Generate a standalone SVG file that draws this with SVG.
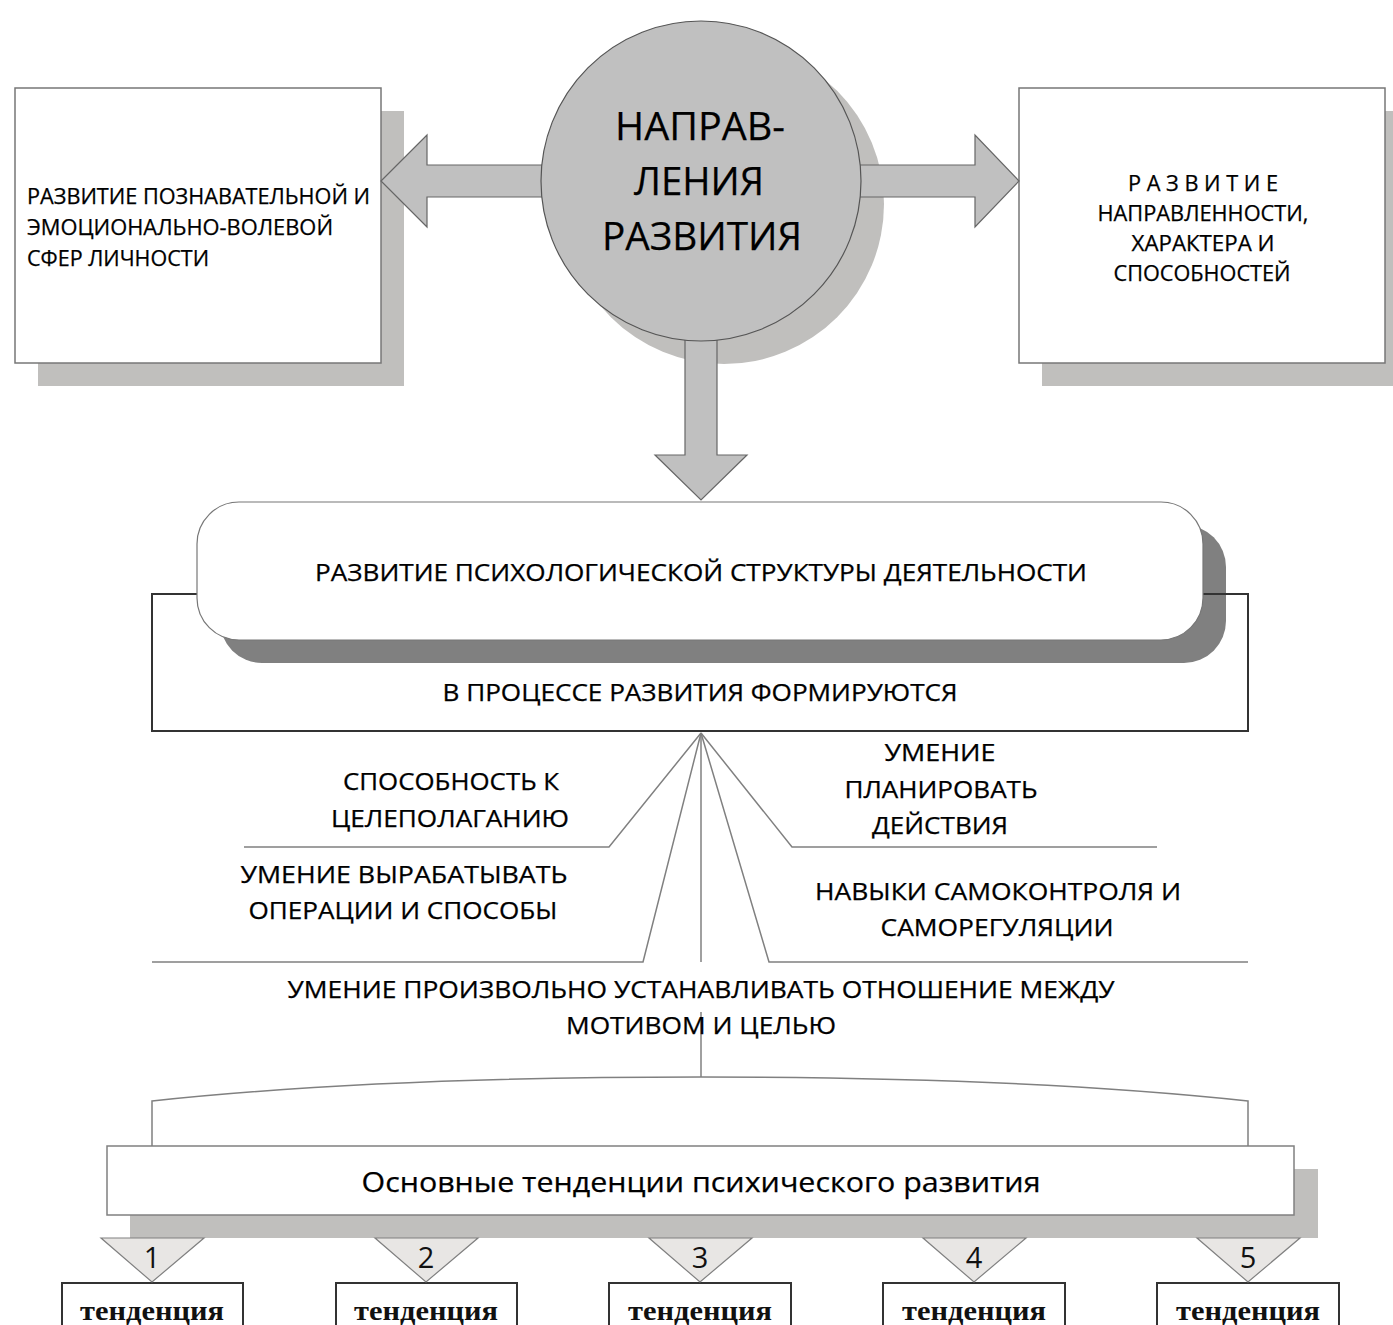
<svg xmlns="http://www.w3.org/2000/svg" width="1393" height="1325" viewBox="0 0 1393 1325">
<style>
.t{font-family:"Open Sans","Liberation Sans",sans-serif;fill:#000;font-size:21px;stroke:#000;stroke-width:0.25}
.c{text-anchor:middle}
.box{fill:#fff;stroke:#777;stroke-width:1.5}
.sh{fill:#c0bfbd}
.arr{fill:#c0c0c0;stroke:#666;stroke-width:1.2}
.ln{fill:none;stroke:#808080;stroke-width:1.5}
.tri{fill:#e8e6e4;stroke:#808080;stroke-width:1.2}
.tb{fill:#fff;stroke:#333;stroke-width:2}
.tt{font-family:"Liberation Serif",serif;font-weight:bold;font-size:28px;fill:#111;text-anchor:middle}
.num{font-family:"Open Sans","Liberation Sans",sans-serif;font-size:29px;fill:#111;text-anchor:middle}
</style>
<rect width="1393" height="1325" fill="#fff"/>

<g id="left-box">
<rect class="sh" x="38" y="111" width="366" height="275"/>
<rect class="box" x="15" y="88" width="366" height="275"/>
<text class="t" x="27" y="204" textLength="343" lengthAdjust="spacingAndGlyphs">РАЗВИТИЕ ПОЗНАВАТЕЛЬНОЙ И</text>
<text class="t" x="27" y="235" textLength="306" lengthAdjust="spacingAndGlyphs">ЭМОЦИОНАЛЬНО-ВОЛЕВОЙ</text>
<text class="t" x="27" y="266" textLength="182" lengthAdjust="spacingAndGlyphs">СФЕР ЛИЧНОСТИ</text>
</g>

<g id="right-box">
<rect class="sh" x="1042" y="111" width="366" height="275"/>
<rect class="box" x="1019" y="88" width="366" height="275"/>
<text class="t c" x="1203" y="191" textLength="150" lengthAdjust="spacingAndGlyphs">Р А З В И Т И Е</text>
<text class="t c" x="1203" y="221" textLength="211" lengthAdjust="spacingAndGlyphs">НАПРАВЛЕННОСТИ,</text>
<text class="t c" x="1203" y="251" textLength="143" lengthAdjust="spacingAndGlyphs">ХАРАКТЕРА И</text>
<text class="t c" x="1202" y="281" textLength="177" lengthAdjust="spacingAndGlyphs">СПОСОБНОСТЕЙ</text>
</g>

<g id="center-shadow">
<circle cx="724" cy="204" r="160" fill="#c0bfbd"/>
</g>

<g id="connectors">
<polygon class="arr" points="381,181 427,135 427,165 560,165 560,197 427,197 427,227"/>
<polygon class="arr" points="1019,181 975,135 975,165 840,165 840,197 975,197 975,227"/>
<polygon class="arr" points="685,320 717,320 717,455 747,455 701,500 655,455 685,455"/>
<path class="ln" d="M701,733 L609,847 L244,847"/>
<path class="ln" d="M701,733 L792,847 L1157,847"/>
<path class="ln" d="M701,733 L643,962 L152,962"/>
<path class="ln" d="M701,733 L769,962 L1248,962"/>
<path class="ln" d="M701,733 L701,962"/>
<path class="ln" d="M701,1012 L701,1077"/>
<path class="ln" d="M152,1146 L152,1101 C320,1083 500,1077 701,1077 C900,1077 1080,1083 1248,1101 L1248,1146"/>
</g>

<g id="center">
<circle cx="701" cy="181" r="160" fill="#c0c0c0" stroke="#555" stroke-width="1.2"/>
<text class="t c" x="700" y="140" style="font-size:39px" textLength="170" lengthAdjust="spacingAndGlyphs">НАПРАВ-</text>
<text class="t c" x="699" y="195" style="font-size:39px" textLength="130" lengthAdjust="spacingAndGlyphs">ЛЕНИЯ</text>
<text class="t c" x="702" y="250" style="font-size:39px" textLength="200" lengthAdjust="spacingAndGlyphs">РАЗВИТИЯ</text>
</g>

<g id="activity">
<rect x="220" y="525" width="1006" height="138" rx="42" fill="#808080"/>
<rect x="152" y="594" width="1096" height="137" fill="none" stroke="#333" stroke-width="2"/>
<rect x="197" y="502" width="1006" height="138" rx="42" fill="#fff" stroke="#777" stroke-width="1.2"/>
<text class="t c" x="701" y="581" style="font-size:23px" textLength="772" lengthAdjust="spacingAndGlyphs">РАЗВИТИЕ ПСИХОЛОГИЧЕСКОЙ СТРУКТУРЫ ДЕЯТЕЛЬНОСТИ</text>
<text class="t c" x="700" y="701" style="font-size:23px" textLength="515" lengthAdjust="spacingAndGlyphs">В ПРОЦЕССЕ РАЗВИТИЯ ФОРМИРУЮТСЯ</text>
</g>

<g id="goal">
<text class="t c" x="451" y="790" style="font-size:23px" textLength="216" lengthAdjust="spacingAndGlyphs">СПОСОБНОСТЬ К</text>
<text class="t c" x="450" y="827" style="font-size:23px" textLength="238" lengthAdjust="spacingAndGlyphs">ЦЕЛЕПОЛАГАНИЮ</text>
</g>
<g id="plan">
<text class="t c" x="940" y="761" style="font-size:23px" textLength="111" lengthAdjust="spacingAndGlyphs">УМЕНИЕ</text>
<text class="t c" x="941" y="798" style="font-size:23px" textLength="193" lengthAdjust="spacingAndGlyphs">ПЛАНИРОВАТЬ</text>
<text class="t c" x="940" y="834" style="font-size:23px" textLength="136" lengthAdjust="spacingAndGlyphs">ДЕЙСТВИЯ</text>
</g>
<g id="operations">
<text class="t c" x="404" y="883" style="font-size:23px" textLength="327" lengthAdjust="spacingAndGlyphs">УМЕНИЕ ВЫРАБАТЫВАТЬ</text>
<text class="t c" x="403" y="919" style="font-size:23px" textLength="309" lengthAdjust="spacingAndGlyphs">ОПЕРАЦИИ И СПОСОБЫ</text>
</g>
<g id="selfcontrol">
<text class="t c" x="998" y="900" style="font-size:23px" textLength="366" lengthAdjust="spacingAndGlyphs">НАВЫКИ САМОКОНТРОЛЯ И</text>
<text class="t c" x="997" y="936" style="font-size:23px" textLength="233" lengthAdjust="spacingAndGlyphs">САМОРЕГУЛЯЦИИ</text>
</g>
<g id="motive">
<text class="t c" x="701" y="998" style="font-size:23px" textLength="827" lengthAdjust="spacingAndGlyphs">УМЕНИЕ ПРОИЗВОЛЬНО УСТАНАВЛИВАТЬ ОТНОШЕНИЕ МЕЖДУ</text>
<text class="t c" x="701" y="1034" style="font-size:23px" textLength="270" lengthAdjust="spacingAndGlyphs">МОТИВОМ И ЦЕЛЬЮ</text>
</g>

<g id="tendencies">
<rect class="sh" x="130" y="1169" width="1188" height="69"/>
<rect x="107" y="1146" width="1187" height="69" fill="#fff" stroke="#808080" stroke-width="1.5"/>
<text class="t c" x="701" y="1192" style="font-size:28px" textLength="679" lengthAdjust="spacingAndGlyphs">Основные тенденции психического развития</text>
</g>

<g id="tendency-1">
<rect class="tb" x="62" y="1283" width="181" height="60"/>
<polygon class="tri" points="101,1238 204,1238 152,1282"/>
<text class="num" x="152" y="1268">1</text>
<text class="tt" x="152" y="1320" textLength="144" lengthAdjust="spacingAndGlyphs">тенденция</text>
</g>
<g id="tendency-2">
<rect class="tb" x="336" y="1283" width="181" height="60"/>
<polygon class="tri" points="375,1238 478,1238 426,1282"/>
<text class="num" x="426" y="1268">2</text>
<text class="tt" x="426" y="1320" textLength="144" lengthAdjust="spacingAndGlyphs">тенденция</text>
</g>
<g id="tendency-3">
<rect class="tb" x="609" y="1283" width="182" height="60"/>
<polygon class="tri" points="649,1238 752,1238 700,1282"/>
<text class="num" x="700" y="1268">3</text>
<text class="tt" x="700" y="1320" textLength="144" lengthAdjust="spacingAndGlyphs">тенденция</text>
</g>
<g id="tendency-4">
<rect class="tb" x="883" y="1283" width="182" height="60"/>
<polygon class="tri" points="923,1238 1026,1238 974,1282"/>
<text class="num" x="974" y="1268">4</text>
<text class="tt" x="974" y="1320" textLength="144" lengthAdjust="spacingAndGlyphs">тенденция</text>
</g>
<g id="tendency-5">
<rect class="tb" x="1157" y="1283" width="182" height="60"/>
<polygon class="tri" points="1197,1238 1300,1238 1248,1282"/>
<text class="num" x="1248" y="1268">5</text>
<text class="tt" x="1248" y="1320" textLength="144" lengthAdjust="spacingAndGlyphs">тенденция</text>
</g>
</svg>
